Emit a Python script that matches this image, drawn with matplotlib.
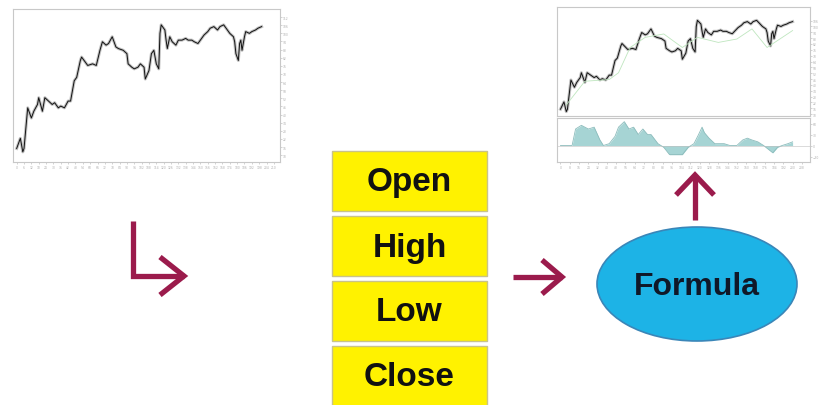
import matplotlib
matplotlib.use("Agg")
import matplotlib.pyplot as plt
from matplotlib.patches import Rectangle, Ellipse

# price path (bar index, close)
bars = [0, 3, 5, 6, 9, 12, 14, 17, 18, 21, 23, 26, 29, 31, 34, 36, 39, 42, 44, 47,
        49, 52, 53, 56, 58, 62, 65, 68, 70, 73, 75, 78, 81, 83, 87, 90, 91, 94, 96, 99,
        101, 104, 105, 108, 110, 112, 113, 114, 116, 117, 118, 121, 122, 123, 125, 127, 130, 132, 135, 138,
        140, 143, 145, 148, 151, 153, 156, 158, 161, 164, 166, 169, 171, 174, 177, 178, 179, 181, 182, 183,
        184, 186, 187, 190, 192, 195, 197, 200]
close = [15, 22.5, 12.5, 15, 45, 37.5, 42.5, 47.5, 52.5, 42.5, 52.5, 50, 47.5, 48.8, 45, 46.3, 45, 50, 50, 65,
         67.5, 80, 82.5, 78.8, 76.3, 77.5, 76.3, 87.5, 93.8, 91.3, 92.5, 97.5, 90, 88.8, 87.5, 85, 77.5, 75, 73.8, 75,
         77.5, 75, 66.3, 72.5, 85, 87.5, 82.5, 77.5, 73.8, 100, 106.3, 102.5, 95, 88.8, 97.5, 93.8, 91.3, 95, 95, 96.3,
         95, 95, 93.8, 92.5, 96.3, 98.8, 101.3, 103.8, 105, 102.5, 105, 106.3, 103.8, 100, 97.5, 93.8, 85, 80, 92.5, 95,
         87.5, 97.5, 101.3, 100, 101.3, 102.5, 103.8, 105]

# moving average (green line on the right chart)
ma_bars = [5, 21, 42, 50, 60, 73, 89, 105, 118, 136, 152, 165, 178, 200]
ma_vals = [19.4, 43.7, 45.5, 52.4, 78.4, 88.8, 92.3, 78.4, 88.8, 83.6, 87.1, 97.5, 78.4, 95.8]

# oscillator in the lower pane
osc_bars = [0, 8, 10, 13, 18, 24, 29, 34, 37, 42, 47, 50, 55, 59, 63, 67, 71, 75, 78, 84,
            89, 94, 99, 105, 110, 115, 119, 122, 124, 128, 133, 141, 146, 152, 157, 161, 165, 170, 175, 179,
            183, 187, 191, 196, 200]
osc_vals = [0, 0, 0, 45, 55, 45, 50, 15, 0, 5, 25, 50, 65, 45, 50, 30, 45, 30, 30, 5,
            -5, -25, -25, -25, -5, 5, 30, 50, 35, 20, 5, 5, 0, 0, 15, 20, 15, 10, 0, -10,
            -20, -5, 0, 5, 10]

fields = ["Open", "High", "Low", "Close"]

W, H = 823, 406
ARROW = "#9b1b4c"

fig = plt.figure(figsize=(W / 100, H / 100), dpi=100)
fig.patch.set_facecolor("white")


def px_axes(x0, y0, x1, y1):
    return fig.add_axes([x0 / W, 1 - y1 / H, (x1 - x0) / W, (y1 - y0) / H])


def chart_style(a):
    a.set_facecolor("white")
    for s in a.spines.values():
        s.set_color("#c8c8c8")
        s.set_linewidth(0.8)
    a.yaxis.tick_right()
    a.tick_params(axis="both", length=1.5, width=0.4, colors="#b0b0b0",
                  labelsize=2.2, pad=0.5)


def draw_price(a):
    a.plot(bars, close, color="#777777", lw=2.2, alpha=0.45, solid_joinstyle="round")
    a.plot(bars, close, color="#111111", lw=0.7)
    a.set_xlim(-3, 215)


# left chart: raw prices
left = px_axes(13, 10, 280, 163)
draw_price(left)
left.set_ylim(5, 118)
left.set_xticks(range(0, 211, 6))
left.set_yticks(range(10, 115, 6))
chart_style(left)

# right chart: prices + indicator
rmain = px_axes(557, 8, 810, 117)
draw_price(rmain)
rmain.plot(ma_bars, ma_vals, color="#bfe6bf", lw=0.6)
rmain.set_ylim(8, 120)
rmain.set_xticks([])
rmain.set_yticks(range(10, 112, 6))
chart_style(rmain)

rlow = px_axes(557, 119, 810, 163)
rlow.fill_between(osc_bars, osc_vals, 0, color="#a6d4d4", lw=0)
rlow.plot(osc_bars, osc_vals, color="#8cbcbc", lw=0.6)
rlow.axhline(0, color="#c0c0c0", lw=0.4)
rlow.set_xlim(-3, 215)
rlow.set_ylim(-45, 75)
rlow.set_xticks(range(0, 211, 8))
rlow.set_yticks([-30, 0, 30, 60])
chart_style(rlow)

# diagram layer
ax = fig.add_axes([0, 0, 1, 1], zorder=5)
ax.set_xlim(0, W)
ax.set_ylim(H, 0)
ax.axis("off")
ax.patch.set_alpha(0)

# OHLC boxes
for i, name in enumerate(fields):
    top = 152 + i * 65
    ax.add_patch(Rectangle((332, top), 155, 60, facecolor="#fff200",
                           edgecolor="#c9c38a", lw=1))
    ax.text(409.5, top + 31, name, ha="center", va="center", fontsize=24,
            fontweight="bold", family="Liberation Sans", color="#111111")

# formula ellipse
ax.add_patch(Ellipse((697, 285), 200, 114, facecolor="#1db3e6",
                     edgecolor="#3a86b8", lw=1.2))
ax.text(697, 287, "Formula", ha="center", va="center", fontsize=23,
        family="Liberation Sans", fontweight="bold", color="#101828")

lw = 3.8
kw = dict(color=ARROW, lw=lw, solid_capstyle="butt", solid_joinstyle="miter")
# bent arrow on the left
ax.plot([133, 133, 184], [222, 277, 277], **kw)
ax.plot([160, 184, 160], [258, 277, 296], **kw)
# arrow into the ellipse
ax.plot([513, 562], [278, 278], **kw)
ax.plot([542, 562, 542], [261, 278, 295], **kw)
# arrow up to the result chart
ax.plot([695, 695], [221, 176], **kw)
ax.plot([676, 695, 714], [196, 176, 196], **kw)

fig.savefig("out.png", dpi=100, facecolor="white")
